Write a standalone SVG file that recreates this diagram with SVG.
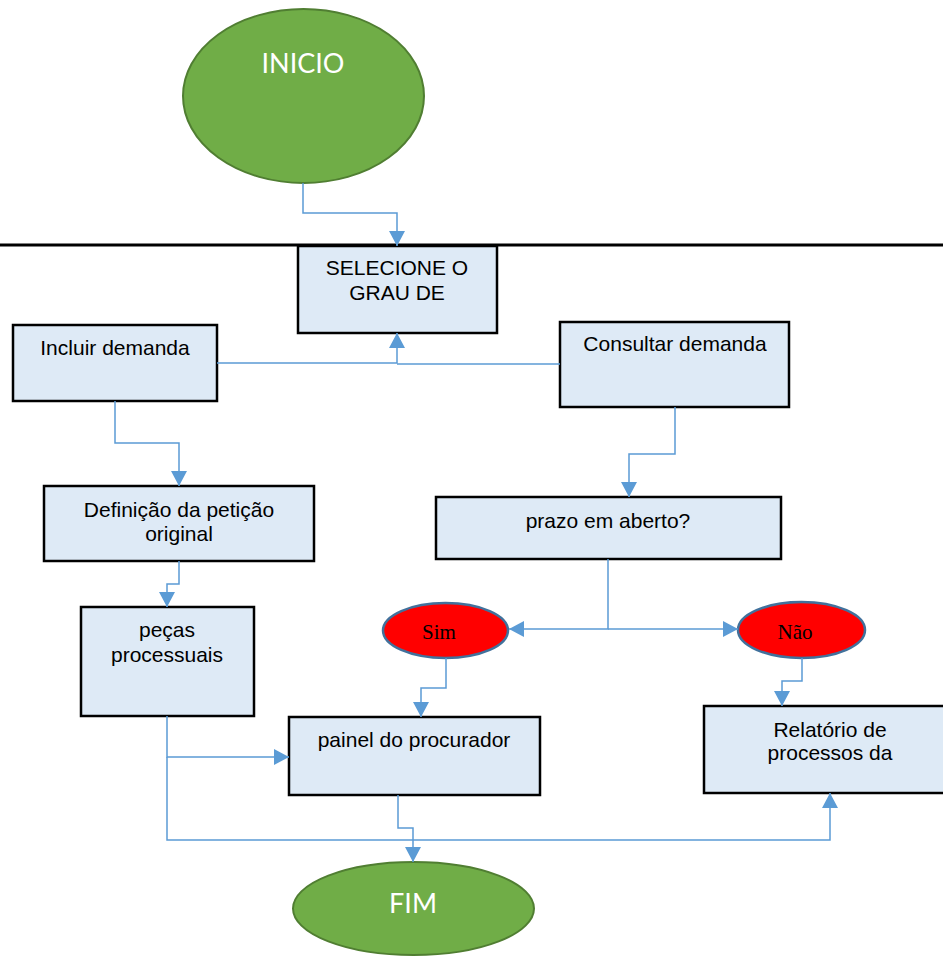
<svg xmlns="http://www.w3.org/2000/svg" width="943" height="957" viewBox="0 0 943 957">
<style>
.box{fill:#DEEAF6;stroke:#000;stroke-width:2.5}
.term{fill:#70AD47;stroke:#507E32;stroke-width:2}
.dec{fill:#FF0000;stroke:#41719C;stroke-width:2.5}
.t{font-family:"Liberation Sans",Arial,sans-serif;font-size:21px;fill:#000;text-anchor:middle}
.tw{font-family:Lato,"Liberation Sans",sans-serif;font-size:27px;fill:#fff;text-anchor:middle}
.ts{font-family:"Liberation Serif","Times New Roman",serif;font-size:21px;fill:#000;text-anchor:middle}
.c{fill:none;stroke:#5B9BD5;stroke-width:1.5}
</style>
<defs>
<marker id="ah" markerUnits="userSpaceOnUse" markerWidth="15" markerHeight="16" refX="15" refY="8" orient="auto">
<path d="M0,0 L15,8 L0,16 z" fill="#5B9BD5"/>
</marker>
</defs>
<line x1="0" y1="245" x2="943" y2="245" stroke="#000" stroke-width="3"/>
<g id="inicio"><ellipse class="term" cx="303.5" cy="96" rx="120.5" ry="87"/><text class="tw" x="303" y="73">INICIO</text></g>
<g id="selecione"><rect class="box" x="298" y="246" width="199" height="87"/><text class="t" x="397" y="275">SELECIONE O</text><text class="t" x="397" y="300">GRAU DE</text></g>
<g id="incluir"><rect class="box" x="13" y="325" width="204" height="76"/><text class="t" x="115" y="355">Incluir demanda</text></g>
<g id="consultar"><rect class="box" x="560" y="322" width="229" height="85"/><text class="t" x="675" y="351">Consultar demanda</text></g>
<g id="definicao"><rect class="box" x="44" y="486" width="270" height="75"/><text class="t" x="179" y="517">Definição da petição</text><text class="t" x="179" y="541">original</text></g>
<g id="prazo"><rect class="box" x="436" y="497" width="345" height="62"/><text class="t" x="608" y="528">prazo em aberto?</text></g>
<g id="pecas"><rect class="box" x="81" y="607" width="173" height="109"/><text class="t" x="167" y="637">peças</text><text class="t" x="167" y="662">processuais</text></g>
<g id="sim"><ellipse class="dec" cx="445.5" cy="630.5" rx="62.5" ry="27.5"/><text class="ts" x="439" y="639">Sim</text></g>
<g id="nao"><ellipse class="dec" cx="801.5" cy="630" rx="63.5" ry="28"/><text class="ts" x="795" y="639">Não</text></g>
<g id="painel"><rect class="box" x="289" y="717" width="251" height="78"/><text class="t" x="414" y="747">painel do procurador</text></g>
<g id="relatorio"><rect class="box" x="704" y="706" width="250" height="87"/><text class="t" x="830" y="737">Relatório de</text><text class="t" x="830" y="760">processos da</text></g>
<g id="fim"><ellipse class="term" cx="413.5" cy="908.5" rx="120.5" ry="46.5"/><text class="tw" x="413" y="913">FIM</text></g>
<g id="connectors">
<path class="c" d="M303,183 V213 H397 V246" marker-end="url(#ah)"/>
<path class="c" d="M217,363 H397 V333" marker-end="url(#ah)"/>
<path class="c" d="M560,364 H397"/>
<path class="c" d="M115,401 V443 H179 V486" marker-end="url(#ah)"/>
<path class="c" d="M675,407 V454 H629 V497" marker-end="url(#ah)"/>
<path class="c" d="M608,559 V629 H509" marker-end="url(#ah)"/>
<path class="c" d="M608,629 H738" marker-end="url(#ah)"/>
<path class="c" d="M179,561 V584 H167 V607" marker-end="url(#ah)"/>
<path class="c" d="M446,658 V688 H421 V717" marker-end="url(#ah)"/>
<path class="c" d="M802,658 V681 H782 V706" marker-end="url(#ah)"/>
<path class="c" d="M167,716 V757 H289" marker-end="url(#ah)"/>
<path class="c" d="M167,757 V840 H830 V793" marker-end="url(#ah)"/>
<path class="c" d="M398,795 V828 H413 V862" marker-end="url(#ah)"/>
</g>
</svg>
